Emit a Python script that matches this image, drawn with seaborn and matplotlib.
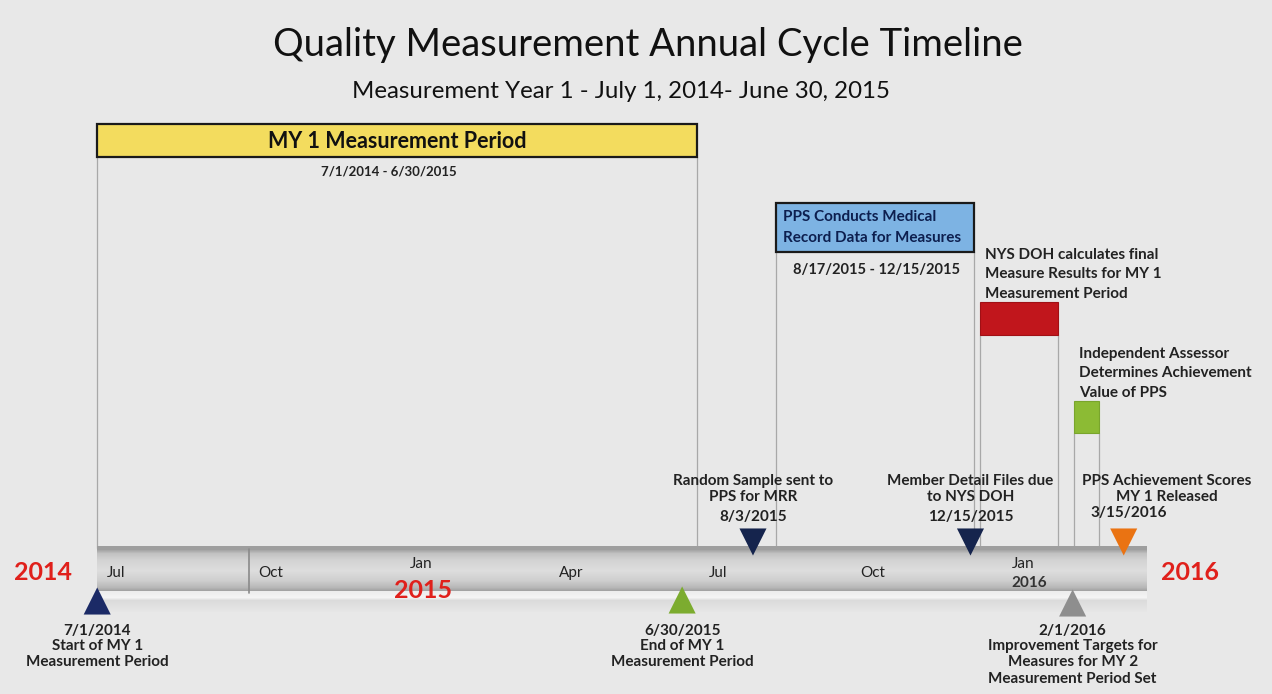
import numpy as np
import pandas as pd
import matplotlib
matplotlib.use("Agg")
import matplotlib.pyplot as plt
import matplotlib.dates as mdates
import seaborn as sns

# timeline data
axis_start = "2014-07-01"
axis_end = "2016-03-29"
month_ticks = ["2014-07-01", "2014-10-01", "2015-01-01", "2015-04-01",
               "2015-07-01", "2015-10-01", "2016-01-01"]
month_labels = ["Jul", "Oct", "Jan", "Apr", "Jul", "Oct", "Jan"]
year_labels = ["2014", "2015", "2016"]

# periods (boxes)
period_names = ["MY 1 Measurement Period",
                "PPS Conducts Medical\nRecord Data for Measures",
                "NYS DOH calculates final\nMeasure Results for MY 1\nMeasurement Period",
                "Independent Assessor\nDetermines Achievement\nValue of PPS"]
period_start = ["2014-07-01", "2015-08-17", "2015-12-19", "2016-02-14"]
period_end = ["2015-06-30", "2015-12-15", "2016-02-04", "2016-02-29"]
period_ranges = ["7/1/2014 - 6/30/2015", "8/17/2015 - 12/15/2015", "", ""]
period_colors = ["#f3dc5e", "#7db3e3", "#c1161c", "#8cbb34"]

# milestones above the bar
top_names = ["Random Sample sent to\nPPS for MRR",
             "Member Detail Files due\nto NYS DOH",
             "PPS Achievement Scores\nMY 1 Released"]
top_dates = ["2015-08-03", "2015-12-13", "2016-03-15"]
top_date_labels = ["8/3/2015", "12/15/2015", "3/15/2016"]
top_colors = ["#15244d", "#15244d", "#ea7312"]

# milestones below the bar
bottom_names = ["Start of MY 1\nMeasurement Period",
                "End of MY 1\nMeasurement Period",
                "Improvement Targets for\nMeasures for MY 2\nMeasurement Period Set"]
bottom_dates = ["2014-07-01", "2015-06-21", "2016-02-13"]
bottom_date_labels = ["7/1/2014", "6/30/2015", "2/1/2016"]
bottom_colors = ["#1b2a66", "#7cac2f", "#8e8e8e"]

sns.set_theme(style="white")
plt.rcParams["font.family"] = ["Lato", "DejaVu Sans"]

bg = "#e8e8e8"
fig = plt.figure(figsize=(12.72, 6.94), dpi=100, facecolor=bg)
ax = fig.add_axes([0, 0, 1, 1])
ax.set_facecolor(bg)

d = lambda s: mdates.date2num(pd.Timestamp(s))

# markers via seaborn
ev = pd.DataFrame({
    "date": pd.to_datetime(top_dates + bottom_dates),
    "y": [542] * 3 + [601, 600, 603],
    "kind": ["down"] * 3 + ["up"] * 3,
    "id": [f"t{i}" for i in range(3)] + [f"b{i}" for i in range(3)],
})
pal = dict(zip(ev["id"], top_colors + bottom_colors))
sns.scatterplot(data=ev, x="date", y="y", hue="id", palette=pal,
                style="kind", markers={"down": "v", "up": "^"},
                s=380, linewidth=0, legend=False, zorder=6, ax=ax)

# axis bar with gradient
x0, x1 = d(axis_start), d(axis_end)
stops_y = [546, 549, 553, 560, 570, 580, 587, 590, 591, 597, 600, 612]
stops_v = [0.62, 0.62, 0.76, 0.83, 0.87, 0.81, 0.72, 0.64, 0.93, 0.96, 0.86, 0.91]
ys = np.arange(546, 612)
vals = np.interp(ys, stops_y, stops_v)
img = np.repeat(vals[:, None, None], 3, axis=2)
ax.imshow(img, extent=(x0, x1, 612, 546), aspect="auto", zorder=2,
          interpolation="bilinear")
ax.plot([d("2014-10-01")] * 2, [549, 593], color="#8a8a8a", lw=1.2, zorder=3)

for t, lab in zip(month_ticks, month_labels):
    yy = 564 if lab == "Jan" else 573
    ax.text(d(t) + 6, yy, lab, fontsize=11, color="#222222",
            ha="left", va="center", zorder=4)
ax.text(d("2016-01-01") + 6, 583, "2016", fontsize=11, fontweight="bold",
        color="#333333", ha="left", va="center", zorder=4)

red = "#e0201b"
ax.text(d(axis_start) - 33, 573, year_labels[0], fontsize=18, fontweight="bold",
        color=red, ha="center", va="center")
ax.text(d("2015-01-01") + 14, 591, year_labels[1], fontsize=18, fontweight="bold",
        color=red, ha="center", va="center", zorder=4)
ax.text(d(axis_end) + 26, 573, year_labels[2], fontsize=18, fontweight="bold",
        color=red, ha="center", va="center")

# period boxes
box_y = [(124, 157), (203, 252), (302, 335), (401, 433)]
edges = ["#1a1a1a", "#1a1a1a", "#a01015", "#79a52c"]
for name, s, e, rng, c, (yt, yb), ec, i in zip(period_names, period_start, period_end,
                                                period_ranges, period_colors, box_y,
                                                edges, range(4)):
    xs, xe = d(s), d(e)
    ax.barh((yt + yb) / 2, xe - xs, left=xs, height=yb - yt, color=c,
            edgecolor=ec, linewidth=1.6 if i < 2 else 0.8, zorder=3)
    for xx in (xs, xe):
        ax.plot([xx, xx], [yb, 548], color="#a8a8a8", lw=0.9, zorder=1)
    if i == 0:
        ax.text((xs + xe) / 2, (yt + yb) / 2 + 1, name, fontsize=15.5, fontweight="bold",
                color="#111111", ha="center", va="center", zorder=4)
        ax.text((xs + xe) / 2 - 5, 171, rng, fontsize=9.5, fontweight="bold",
                color="#222222", ha="center", va="center")
    elif i == 1:
        ax.text(xs + 4, (yt + yb) / 2, name, fontsize=11, fontweight="bold",
                color="#0d1f4f", ha="left", va="center", linespacing=1.6, zorder=4)
        ax.text((xs + xe) / 2 + 1, 270, rng, fontsize=10.5, fontweight="bold",
                color="#222222", ha="center", va="center")
    else:
        ax.text(xs + 3, yt - 1, name, fontsize=11, fontweight="bold",
                color="#222222", ha="left", va="bottom", linespacing=1.52)

# labels for top milestones
top_off = [0, 0, 26]
for name, t, dl, off in zip(top_names, top_dates, top_date_labels, top_off):
    ax.text(d(t) + off, 489, name, fontsize=11, fontweight="bold", color="#222222",
            ha="center", va="center", linespacing=1.2)
    ax.text(d(t) + (3 if off else 0), 517 if not off else 513, dl, fontsize=11,
            fontweight="bold", color="#222222", ha="center", va="center")

# labels for bottom milestones
for name, t, dl in zip(bottom_names, bottom_dates, bottom_date_labels):
    ax.text(d(t), 631, dl, fontsize=11, fontweight="bold", color="#222222",
            ha="center", va="center")
    ax.text(d(t), 639, name, fontsize=11, fontweight="bold", color="#222222",
            ha="center", va="top", linespacing=1.22)

# title and subtitle (x in axes fraction, y in pixel rows)
ax.text(0.509, 45, "Quality Measurement Annual Cycle Timeline", fontsize=27.5,
        color="#111111", ha="center", va="center", transform=ax.get_yaxis_transform())
ax.text(0.488, 91, "Measurement Year 1 - July 1, 2014- June 30, 2015",
        fontsize=17.3, color="#111111", ha="center", va="center",
        transform=ax.get_yaxis_transform())

ax.set_xlim(pd.Timestamp("2014-05-03"), pd.Timestamp("2016-06-13"))
ax.set_ylim(694, 0)
ax.axis("off")

fig.savefig("out.png", dpi=100, facecolor=bg)
